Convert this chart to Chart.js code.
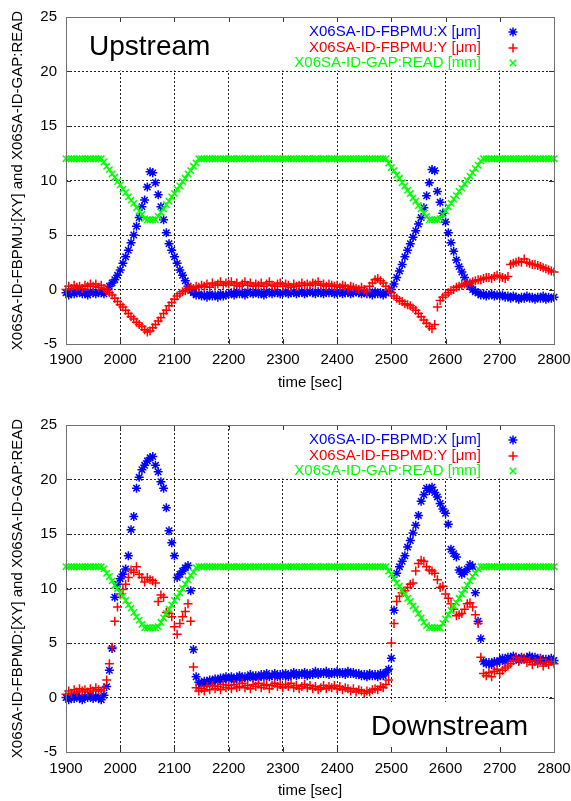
<!DOCTYPE html>
<html>
<head>
<meta charset="utf-8">
<script src="https://cdn.jsdelivr.net/npm/chart.js@4.4.1/dist/chart.umd.min.js"></script>
<style>
  html, body { margin: 0; padding: 0; background: #fff; }
  #wrap { position: relative; width: 571px; height: 801px; }
  canvas { position: absolute; left: 0; }
  #upstream { top: 0; }
  #downstream { top: 400px; }
</style>
</head>
<body>
<div id="wrap">
  <canvas id="upstream" width="571" height="400"></canvas>
  <canvas id="downstream" width="571" height="401"></canvas>
</div>
<script>
// sample times [sec], one row = 50 s
const times = [
  1900, 1905, 1910, 1915, 1920, 1925, 1930, 1935, 1940, 1945,
  1950, 1955, 1960, 1965, 1970, 1975, 1980, 1985, 1990, 1995,
  2000, 2005, 2010, 2015, 2020, 2025, 2030, 2035, 2040, 2045,
  2050, 2055, 2060, 2065, 2070, 2075, 2080, 2085, 2090, 2095,
  2100, 2105, 2110, 2115, 2120, 2125, 2130, 2135, 2140, 2145,
  2150, 2155, 2160, 2165, 2170, 2175, 2180, 2185, 2190, 2195,
  2200, 2205, 2210, 2215, 2220, 2225, 2230, 2235, 2240, 2245,
  2250, 2255, 2260, 2265, 2270, 2275, 2280, 2285, 2290, 2295,
  2300, 2305, 2310, 2315, 2320, 2325, 2330, 2335, 2340, 2345,
  2350, 2355, 2360, 2365, 2370, 2375, 2380, 2385, 2390, 2395,
  2400, 2405, 2410, 2415, 2420, 2425, 2430, 2435, 2440, 2445,
  2450, 2455, 2460, 2465, 2470, 2475, 2480, 2485, 2490, 2495,
  2500, 2505, 2510, 2515, 2520, 2525, 2530, 2535, 2540, 2545,
  2550, 2555, 2560, 2565, 2570, 2575, 2580, 2585, 2590, 2595,
  2600, 2605, 2610, 2615, 2620, 2625, 2630, 2635, 2640, 2645,
  2650, 2655, 2660, 2665, 2670, 2675, 2680, 2685, 2690, 2695,
  2700, 2705, 2710, 2715, 2720, 2725, 2730, 2735, 2740, 2745,
  2750, 2755, 2760, 2765, 2770, 2775, 2780, 2785, 2790, 2795,
  2800
];

// upstream BPM
const upX = [
  -0.3, -0.5, -0.2, -0.4, -0.3, -0.1, -0.4, -0.3, -0.5, -0.2,
  -0.3, -0.4, -0.2, -0.3, -0.4, -0.1, 0.3, 0.6, 0.9, 1.3,
  1.8, 2.4, 3.0, 3.6, 4.3, 5.0, 5.8, 6.6, 7.6, 8.2,
  9.4, 10.8, 10.7, 9.8, 8.7, 7.6, 6.4, 5.2, 4.2, 3.6,
  3.0, 2.4, 1.8, 1.3, 0.8, 0.3, -0.1, -0.3, -0.5, -0.4,
  -0.6, -0.5, -0.7, -0.4, -0.6, -0.5, -0.7, -0.4, -0.6, -0.5,
  -0.4, -0.3, -0.5, -0.2, -0.4, -0.3, -0.5, -0.2, -0.3, -0.4,
  -0.2, -0.4, -0.3, -0.5, -0.2, -0.3, -0.4, -0.2, -0.3, -0.4,
  -0.3, -0.2, -0.4, -0.3, -0.2, -0.4, -0.3, -0.2, -0.4, -0.3,
  -0.2, -0.3, -0.4, -0.2, -0.3, -0.4, -0.2, -0.3, -0.2, -0.4,
  -0.3, -0.2, -0.4, -0.3, -0.2, -0.4, -0.3, -0.2, -0.3, -0.4,
  -0.2, -0.4, -0.3, -0.5, -0.2, -0.4, -0.3, -0.5, -0.3, -0.2,
  0.0, 0.5, 1.1, 1.7, 2.3, 3.0, 3.6, 4.2, 4.8, 5.4,
  6.0, 6.6, 7.5, 8.6, 9.8, 11.0, 10.9, 9.0, 8.0, 7.0,
  6.2, 5.2, 4.3, 3.5, 2.7, 2.1, 1.6, 1.1, 0.6, 0.3,
  0.0, -0.2, -0.3, -0.5, -0.4, -0.6, -0.5, -0.4, -0.6, -0.5,
  -0.6, -0.5, -0.7, -0.6, -0.8, -0.6, -0.7, -0.9, -0.7, -0.8,
  -0.6, -0.8, -0.7, -0.9, -0.7, -0.8, -0.6, -0.9, -0.7, -0.8,
  -0.7
];
const upY = [
  0.0, 0.3, 0.1, 0.4, 0.2, 0.3, 0.1, 0.4, 0.3, 0.5,
  0.3, 0.5, 0.2, 0.4, 0.1, -0.1, -0.3, -0.5, -0.8, -1.1,
  -1.4, -1.6, -1.9, -2.2, -2.5, -2.7, -3.0, -3.2, -3.4, -3.7,
  -3.9, -3.8, -3.5, -3.2, -2.9, -2.6, -2.2, -1.9, -1.5, -1.2,
  -0.9, -0.6, -0.4, -0.2, -0.1, 0.1, 0.2, 0.1, 0.3, 0.2,
  0.4, 0.3, 0.5, 0.2, 0.6, 0.4, 0.5, 0.7, 0.4, 0.6,
  0.5, 0.7, 0.4, 0.6, 0.3, 0.5, 0.7, 0.4, 0.6, 0.3,
  0.5, 0.4, 0.6, 0.3, 0.5, 0.7, 0.4, 0.3, 0.5, 0.6,
  0.3, 0.5, 0.4, 0.2, 0.5, 0.3, 0.4, 0.6, 0.4, 0.5,
  0.4, 0.6, 0.5, 0.7, 0.4, 0.5, 0.3, 0.5, 0.4, 0.3,
  0.4, 0.2, 0.4, 0.3, 0.1, 0.3, 0.2, 0.1, 0.0, 0.2,
  0.0, -0.2, 0.3, 0.6, 0.9, 1.0, 0.8, 0.6, 0.3, 0.0,
  -0.3, -0.6, -0.8, -1.0, -1.1, -1.3, -1.4, -1.5, -1.7, -1.9,
  -2.2, -2.5, -2.8, -3.1, -3.4, -3.6, -3.2, -1.6, -1.0, -0.7,
  -0.5, -0.3, -0.1, 0.0, 0.2, 0.3, 0.4, 0.5, 0.5, 0.6,
  0.7, 0.8, 0.9, 0.9, 1.0, 1.1, 1.1, 1.0, 1.2, 1.3,
  1.2, 1.1, 1.0, 1.2, 2.3, 2.4, 2.5, 2.6, 2.5, 2.8,
  2.5, 2.4, 2.3, 2.3, 2.2, 2.1, 2.0, 1.9, 1.8, 1.7,
  1.6
];
const upGap = [
  12, 12, 12, 12, 12, 12, 12, 12, 12, 12,
  12, 12, 12, 12, 11.7, 11.3, 11.0, 10.6, 10.3, 9.9,
  9.6, 9.2, 8.9, 8.5, 8.2, 7.9, 7.5, 7.2, 6.9, 6.5,
  6.4, 6.4, 6.4, 6.4, 6.7, 7.1, 7.4, 7.8, 8.1, 8.5,
  8.8, 9.2, 9.5, 9.9, 10.2, 10.6, 10.9, 11.3, 11.6, 12,
  12, 12, 12, 12, 12, 12, 12, 12, 12, 12,
  12, 12, 12, 12, 12, 12, 12, 12, 12, 12,
  12, 12, 12, 12, 12, 12, 12, 12, 12, 12,
  12, 12, 12, 12, 12, 12, 12, 12, 12, 12,
  12, 12, 12, 12, 12, 12, 12, 12, 12, 12,
  12, 12, 12, 12, 12, 12, 12, 12, 12, 12,
  12, 12, 12, 12, 12, 12, 12, 12, 12, 11.6,
  11.2, 10.9, 10.5, 10.2, 9.8, 9.5, 9.1, 8.8, 8.4, 8.1,
  7.7, 7.4, 7.0, 6.7, 6.4, 6.4, 6.4, 6.4, 6.5, 6.9,
  7.2, 7.6, 7.9, 8.3, 8.6, 9.0, 9.3, 9.7, 10.0, 10.4,
  10.7, 11.1, 11.4, 11.8, 12, 12, 12, 12, 12, 12,
  12, 12, 12, 12, 12, 12, 12, 12, 12, 12,
  12, 12, 12, 12, 12, 12, 12, 12, 12, 12,
  12
];

// downstream BPM
const downX = [
  0.0, -0.2, 0.1, -0.1, 0.2, 0.0, -0.2, 0.1, 0.0, 0.2,
  -0.1, 0.1, 0.0, -0.2, 0.2, 1.0, 2.5, 4.5, 9.2, 10.4,
  10.9, 11.3, 11.8, 13.0, 15.4, 16.6, 19.2, 20.2, 20.9, 21.3,
  21.7, 22.0, 22.1, 21.3, 20.7, 19.8, 19.2, 17.4, 15.3, 14.2,
  13.0, 11.0, 11.3, 11.6, 11.9, 12.1, 9.8, 4.4, 1.9, 1.4,
  1.2, 1.5, 1.3, 1.6, 1.4, 1.7, 1.5, 1.8, 1.6, 1.9,
  1.7, 1.9, 1.6, 1.8, 2.0, 1.7, 1.9, 1.8, 2.1, 1.8,
  2.0, 1.8, 2.1, 1.9, 2.2, 1.9, 2.0, 2.2, 1.9, 2.1,
  2.0, 2.2, 1.9, 2.1, 2.3, 2.0, 2.2, 2.1, 2.3, 2.0,
  2.2, 2.1, 2.4, 2.1, 2.3, 2.2, 2.4, 2.1, 2.3, 2.2,
  2.4, 2.2, 2.3, 2.1, 2.4, 2.2, 2.3, 2.1, 2.2, 2.0,
  2.1, 1.9, 2.2, 2.0, 2.1, 1.9, 2.2, 2.0, 2.3, 2.6,
  3.6, 8.0, 11.4, 12.0, 12.5, 13.0, 13.8, 14.4, 15.1, 15.8,
  16.7, 18.0, 18.6, 19.2, 19.0, 19.3, 18.8, 18.4, 17.8, 17.3,
  16.9, 15.9, 13.6, 13.2, 12.9, 11.7, 11.3, 11.5, 11.8, 12.2,
  12.0, 9.6, 7.0, 5.4, 3.3, 3.1, 3.2, 3.0, 3.3, 3.2,
  3.4, 3.6, 3.3, 3.7, 3.5, 3.8, 3.6, 3.4, 3.7, 3.5,
  3.6, 3.8, 3.5, 3.7, 3.4, 3.6, 3.3, 3.5, 3.4, 3.6,
  3.4
];
const downY = [
  0.3, 0.6, 0.4, 0.7, 0.5, 0.8, 0.6, 0.7, 0.5, 0.8,
  0.6, 0.9, 0.7, 0.6, 0.9, 1.6, 3.1, 4.6, 7.0, 8.3,
  9.5, 9.9, 10.4, 11.0, 11.7, 11.5, 12.0, 11.3, 11.0, 10.6,
  11.0, 10.8, 10.7, 10.5, 8.8, 9.4, 9.2, 7.8, 7.7, 7.4,
  6.5, 5.8, 6.8, 7.4, 7.9, 8.6, 7.0, 2.8, 0.9, 0.6,
  0.8, 0.6, 1.0, 0.7, 1.1, 0.8, 1.0, 0.7, 1.2, 0.9,
  1.1, 0.8, 1.2, 0.9, 1.0, 1.3, 0.9, 1.1, 0.8, 1.2,
  1.0, 1.3, 0.9, 1.1, 1.2, 0.8, 1.1, 1.3, 1.0, 1.2,
  0.9, 1.2, 1.0, 1.3, 0.9, 1.1, 0.8, 1.0, 1.2, 0.9,
  1.1, 0.8, 1.0, 0.7, 0.9, 1.1, 0.8, 1.0, 0.9, 1.1,
  0.8, 1.0, 0.7, 0.9, 0.8, 0.6, 0.8, 0.5, 0.7, 0.6,
  0.4, 0.6, 0.5, 0.7, 0.8, 0.7, 1.0, 0.9, 1.2, 1.6,
  5.0, 6.8, 8.8, 9.3, 9.6, 9.8, 10.1, 10.4, 10.5, 11.6,
  12.3, 12.6, 12.5, 12.0, 11.7, 11.6, 11.4, 10.8, 10.1, 10.2,
  9.5, 9.1, 8.6, 8.1, 7.5, 7.6, 7.7, 8.1, 8.6, 8.7,
  8.3, 7.6, 6.8, 3.7, 2.2, 2.0, 2.3, 1.9, 2.4, 2.6,
  2.2, 2.5, 2.7, 2.9, 3.1, 3.4, 3.7, 3.3, 3.5, 3.6,
  3.2, 3.4, 3.0, 3.3, 3.1, 3.5, 2.9, 3.2, 3.0, 3.3,
  3.1
];
const downGap = [
  12, 12, 12, 12, 12, 12, 12, 12, 12, 12,
  12, 12, 12, 12, 11.8, 11.4, 11.1, 10.7, 10.3, 10.0,
  9.6, 9.3, 8.9, 8.5, 8.2, 7.8, 7.4, 7.1, 6.7, 6.4,
  6.4, 6.4, 6.4, 6.4, 6.5, 6.9, 7.3, 7.7, 8.1, 8.5,
  8.9, 9.2, 9.6, 10.0, 10.4, 10.8, 11.2, 11.5, 11.9, 12,
  12, 12, 12, 12, 12, 12, 12, 12, 12, 12,
  12, 12, 12, 12, 12, 12, 12, 12, 12, 12,
  12, 12, 12, 12, 12, 12, 12, 12, 12, 12,
  12, 12, 12, 12, 12, 12, 12, 12, 12, 12,
  12, 12, 12, 12, 12, 12, 12, 12, 12, 12,
  12, 12, 12, 12, 12, 12, 12, 12, 12, 12,
  12, 12, 12, 12, 12, 12, 12, 12, 12, 11.6,
  11.3, 10.9, 10.5, 10.2, 9.8, 9.5, 9.1, 8.8, 8.4, 8.1,
  7.7, 7.3, 6.9, 6.6, 6.4, 6.4, 6.4, 6.4, 6.4, 6.8,
  7.2, 7.6, 8.0, 8.4, 8.7, 9.1, 9.5, 9.9, 10.3, 10.7,
  11.1, 11.4, 11.8, 12, 12, 12, 12, 12, 12, 12,
  12, 12, 12, 12, 12, 12, 12, 12, 12, 12,
  12, 12, 12, 12, 12, 12, 12, 12, 12, 12,
  12
];

// axis ticks
const xTickValues = [1900, 2000, 2100, 2200, 2300, 2400, 2500, 2600, 2700, 2800];
const yTickValues = [-5, 0, 5, 10, 15, 20, 25];

const FONT = "'Liberation Sans', Arial, Helvetica, sans-serif";
Chart.defaults.font.family = FONT;
Chart.defaults.font.size = 15;
Chart.defaults.color = '#000';

const BLUE = '#0000ff', RED = '#ff0000', GREEN = '#00ff00';

function mark(ctx, style, x, y, r) {
    ctx.beginPath();
    if (style === 'cross' || style === 'star') {
        ctx.moveTo(x - r, y); ctx.lineTo(x + r, y);
        ctx.moveTo(x, y - r); ctx.lineTo(x, y + r);
    }
    if (style === 'crossRot' || style === 'star') {
        const d = r * 0.72;
        ctx.moveTo(x - d, y - d); ctx.lineTo(x + d, y + d);
        ctx.moveTo(x - d, y + d); ctx.lineTo(x + d, y - d);
    }
    ctx.stroke();
}

// gnuplot-ish frame: opaque areas, inward ticks, border, key and label
const framePlugin = {
    id: 'frame',
    beforeDatasetsDraw(chart, args, opts) {
        const { ctx, chartArea: a, scales: { x, y } } = chart;
        ctx.save();
        ctx.fillStyle = '#fff';
        opts.blank.forEach(b => {
            const l = Math.max(x.getPixelForValue(b.x0), a.left + 1);
            const r = Math.min(x.getPixelForValue(b.x1), a.right - 1);
            const t = Math.max(y.getPixelForValue(b.y1), a.top + 1);
            const bt = Math.min(y.getPixelForValue(b.y0) - 1, a.bottom - 1);
            ctx.fillRect(l, t, r - l, bt - t);
        });
        ctx.strokeStyle = '#333';
        ctx.lineWidth = 1;
        ctx.beginPath();
        xTickValues.forEach(v => {
            const px = Math.round(x.getPixelForValue(v)) + 0.5;
            ctx.moveTo(px, a.top); ctx.lineTo(px, a.top + 5);
            ctx.moveTo(px, a.bottom); ctx.lineTo(px, a.bottom - 5);
        });
        yTickValues.forEach(v => {
            const py = Math.round(y.getPixelForValue(v)) + 0.5;
            ctx.moveTo(a.left, py); ctx.lineTo(a.left + 5, py);
            ctx.moveTo(a.right, py); ctx.lineTo(a.right - 5, py);
        });
        ctx.stroke();
        ctx.restore();
    },
    afterDraw(chart, args, opts) {
        const { ctx, chartArea: a } = chart;
        ctx.save();
        ctx.strokeStyle = '#707070';
        ctx.lineWidth = 1;
        ctx.strokeRect(Math.round(a.left) + 0.5, Math.round(a.top) + 0.5,
            Math.round(a.right - a.left), Math.round(a.bottom - a.top));

        // key
        ctx.font = '15px ' + FONT;
        ctx.textAlign = 'right';
        ctx.textBaseline = 'middle';
        const rows = [15, 31, 46];
        chart.data.datasets.forEach((ds, i) => {
            const yy = a.top + rows[i];
            ctx.fillStyle = ds.borderColor;
            ctx.fillText(ds.label, a.left + 415, yy);
            ctx.strokeStyle = ds.borderColor;
            ctx.lineWidth = 1.5;
            mark(ctx, ds.pointStyle, a.left + 447, yy, 4.5);
        });

        // plot label
        ctx.font = '28px ' + FONT;
        ctx.textAlign = 'left';
        ctx.textBaseline = 'alphabetic';
        ctx.fillStyle = '#000';
        ctx.fillText(opts.label, a.left + opts.labelDx,
            opts.labelFromBottom ? a.bottom - opts.labelDy : a.top + opts.labelDy);
        ctx.restore();
    }
};

function series(values) {
    return times.map((t, i) => ({ x: t, y: values[i] }));
}

function makeChart(id, names, values, yTitle, frame, pad, xHeight, titlePad) {
    const styles = ['star', 'cross', 'crossRot'];
    const colors = [BLUE, RED, GREEN];
    return new Chart(document.getElementById(id), {
        type: 'scatter',
        data: {
            datasets: names.map((n, i) => ({
                label: n,
                data: series(values[i]),
                pointStyle: styles[i],
                pointRadius: 4.5,
                pointBorderWidth: 1.5,
                borderColor: colors[i],
                backgroundColor: colors[i],
                order: 2 - i,
                clip: false
            }))
        },
        plugins: [framePlugin],
        options: {
            responsive: false,
            animation: false,
            devicePixelRatio: 1,
            events: [],
            layout: { padding: pad },
            plugins: {
                legend: { display: false },
                tooltip: { enabled: false },
                frame: frame
            },
            scales: {
                x: {
                    type: 'linear',
                    min: 1900, max: 2800,
                    afterBuildTicks: s => { s.ticks = xTickValues.map(v => ({ value: v })); },
                    afterFit: s => { s.height = xHeight; s.paddingLeft = 0; s.paddingRight = 0; },
                    ticks: { padding: pad.tickPad, maxRotation: 0, callback: v => String(v) },
                    grid: { color: '#222', lineWidth: 1, drawTicks: false },
                    border: { display: false, dash: [2, 2] },
                    title: { display: true, text: 'time [sec]', padding: { top: 0, bottom: titlePad } }
                },
                y: {
                    type: 'linear',
                    min: -5, max: 25,
                    afterBuildTicks: s => { s.ticks = yTickValues.map(v => ({ value: v })); },
                    afterFit: s => { s.width = 66; s.paddingTop = 0; s.paddingBottom = 0; },
                    ticks: { padding: 9, callback: v => String(v) },
                    grid: { color: '#222', lineWidth: 1, drawTicks: false },
                    border: { display: false, dash: [2, 2] },
                    title: { display: true, text: yTitle, padding: { top: 9, bottom: 0 } }
                }
            }
        }
    });
}

makeChart('upstream',
    ['X06SA-ID-FBPMU:X [\u03bcm]', 'X06SA-ID-FBPMU:Y [\u03bcm]', 'X06SA-ID-GAP:READ [mm]'],
    [upX, upY, upGap],
    'X06SA-ID-FBPMU:[XY] and X06SA-ID-GAP:READ',
    { blank: [{ x0: 1900, x1: 2800, y0: 20, y1: 25 }], label: 'Upstream', labelDx: 23, labelDy: 38, labelFromBottom: false },
    { top: 17, right: 17, bottom: 5, left: 0, tickPad: 7 }, 51, 3);

makeChart('downstream',
    ['X06SA-ID-FBPMD:X [\u03bcm]', 'X06SA-ID-FBPMD:Y [\u03bcm]', 'X06SA-ID-GAP:READ [mm]'],
    [downX, downY, downGap],
    'X06SA-ID-FBPMD:[XY] and X06SA-ID-GAP:READ',
    { blank: [{ x0: 2290, x1: 2800, y0: 20, y1: 25 }, { x0: 2440, x1: 2800, y0: -5, y1: -0.4 }], label: 'Downstream', labelDx: 305, labelDy: 17, labelFromBottom: true },
    { top: 25, right: 17, bottom: 0, left: 0, tickPad: 8 }, 49, 1);
</script>
</body>
</html>
